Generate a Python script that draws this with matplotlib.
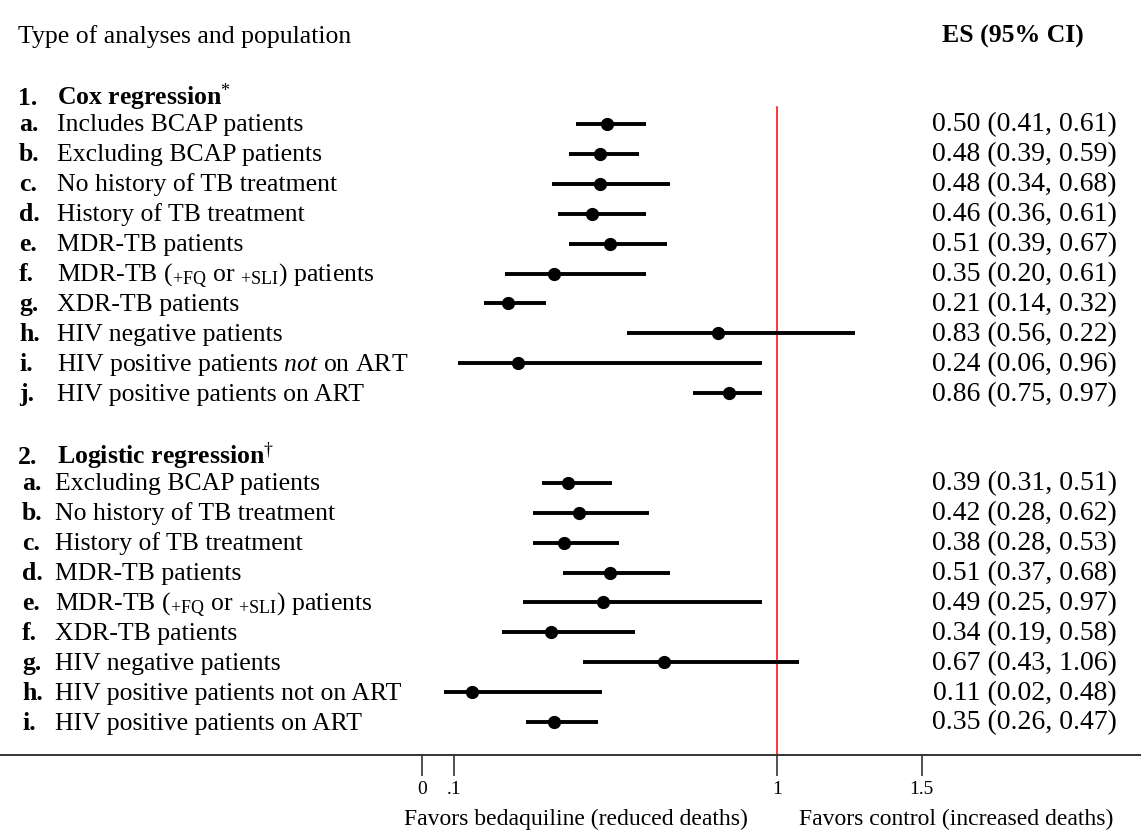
import matplotlib
matplotlib.use("Agg")
import matplotlib.pyplot as plt
import matplotlib.transforms as mtransforms

plt.rcParams['font.family'] = ['Liberation Serif', 'DejaVu Serif']
plt.rcParams['mathtext.fontset'] = 'custom'
plt.rcParams['mathtext.rm'] = 'Liberation Serif'
plt.rcParams['mathtext.it'] = 'Liberation Serif:italic'
plt.rcParams['mathtext.bf'] = 'Liberation Serif:bold'

# Cox regression rows
cox_letters = ['a.', 'b.', 'c.', 'd.', 'e.', 'f.', 'g.', 'h.', 'i.', 'j.']
cox_labels = [
    'Includes BCAP patients',
    'Excluding BCAP patients',
    'No history of TB treatment',
    'History of TB treatment',
    'MDR-TB patients',
    r'MDR-TB ($_{\mathrm{+FQ}}$ or $_{\mathrm{+SLI}}$) patients',
    'XDR-TB patients',
    'HIV negative patients',
    r'HIV positive patients $\mathit{not}$ on ART',
    'HIV positive patients on ART',
]
# reported estimates (text column)
cox_es = [0.50, 0.48, 0.48, 0.46, 0.51, 0.35, 0.21, 0.83, 0.24, 0.86]
cox_es_lo = [0.41, 0.39, 0.34, 0.36, 0.39, 0.20, 0.14, 0.56, 0.06, 0.75]
cox_es_hi = [0.61, 0.59, 0.68, 0.61, 0.67, 0.61, 0.32, 0.22, 0.96, 0.97]
# plotted positions (as drawn)
cox_est = [0.522, 0.501, 0.501, 0.480, 0.530, 0.373, 0.241, 0.835, 0.270, 0.866]
cox_lo = [0.434, 0.414, 0.365, 0.384, 0.414, 0.234, 0.175, 0.577, 0.101, 0.764]
cox_hi = [0.631, 0.611, 0.699, 0.631, 0.689, 0.631, 0.349, 1.220, 0.959, 0.959]

# Logistic regression rows
log_letters = ['a.', 'b.', 'c.', 'd.', 'e.', 'f.', 'g.', 'h.', 'i.']
log_labels = [
    'Excluding BCAP patients',
    'No history of TB treatment',
    'History of TB treatment',
    'MDR-TB patients',
    r'MDR-TB ($_{\mathrm{+FQ}}$ or $_{\mathrm{+SLI}}$) patients',
    'XDR-TB patients',
    'HIV negative patients',
    'HIV positive patients not on ART',
    'HIV positive patients on ART',
]
log_es = [0.39, 0.42, 0.38, 0.51, 0.49, 0.34, 0.67, 0.11, 0.35]
log_es_lo = [0.31, 0.28, 0.28, 0.37, 0.25, 0.19, 0.43, 0.02, 0.26]
log_es_hi = [0.51, 0.62, 0.53, 0.68, 0.97, 0.58, 1.06, 0.48, 0.47]
log_est = [0.412, 0.442, 0.401, 0.530, 0.511, 0.363, 0.683, 0.142, 0.373]
log_lo = [0.337, 0.312, 0.312, 0.396, 0.284, 0.224, 0.454, 0.062, 0.293]
log_hi = [0.536, 0.640, 0.556, 0.699, 0.959, 0.600, 1.062, 0.506, 0.497]

tick_pos = [0, 0.091, 1, 1.408]
tick_labels = ['0', '.1', '1', '1.5']

W, H = 1141, 838
fig = plt.figure(figsize=(W / 100, H / 100), dpi=100)
ax = fig.add_axes([0, 1 - 755 / H, 1, 755 / H])
ax.set_xlim(-422 / 355, (W - 422) / 355)
ax.set_ylim(21.1, -124 / 29.9)

cox_rows = list(range(len(cox_labels)))
log_rows = [12 + i for i in range(len(log_labels))]

# reference line at 1
ax.plot([1, 1], [21.1, -0.57], color='red', lw=1.1, zorder=1)

for rows, est, lo, hi in [(cox_rows, cox_est, cox_lo, cox_hi),
                          (log_rows, log_est, log_lo, log_hi)]:
    ax.hlines(rows, lo, hi, color='black', lw=2.8, zorder=2)
    ax.plot(est, rows, 'o', color='black', ms=8.5, zorder=3)

for s in ['top', 'left', 'right']:
    ax.spines[s].set_visible(False)
ax.spines['bottom'].set_color('#333333')
ax.spines['bottom'].set_linewidth(1.4)
ax.set_yticks([])
ax.set_xticks(tick_pos)
ax.set_xticklabels(tick_labels, fontsize=14)
ax.tick_params(axis='x', direction='out', length=15, width=1.1, color='#222222', pad=4)

trans = mtransforms.blended_transform_factory(ax.transAxes, ax.transData)
fs = 18.5
fs_es = 20
dy = 0.25


def px(x):
    return x / W


ax.text(px(18), -2.72, 'Type of analyses and population', fontsize=fs, transform=trans, va='baseline')
ax.text(px(942), -2.72, 'ES (95% CI)', fontsize=fs, fontweight='bold', transform=trans, va='baseline')

ax.text(px(18), -0.65, '1.', fontsize=fs, fontweight='bold', transform=trans, va='baseline')
ax.text(px(57), -0.65, r'Cox regression$^{*}$', fontsize=fs, fontweight='bold', transform=trans, va='baseline')
ax.text(px(18), 11.37, '2.', fontsize=fs, fontweight='bold', transform=trans, va='baseline')
ax.text(px(57), 11.37, r'Logistic regression$^{\dagger}$', fontsize=fs, fontweight='bold', transform=trans, va='baseline')

for rows, letters, labels, es, elo, ehi, lx, tx in [
        (cox_rows, cox_letters, cox_labels, cox_es, cox_es_lo, cox_es_hi, 19, 57),
        (log_rows, log_letters, log_labels, log_es, log_es_lo, log_es_hi, 22, 55)]:
    for r, let, lab, e, l, h in zip(rows, letters, labels, es, elo, ehi):
        ax.text(px(lx), r + dy, let, fontsize=fs, fontweight='bold', transform=trans, va='baseline')
        ax.text(px(tx), r + dy, lab, fontsize=fs, transform=trans, va='baseline')
        ax.text(px(1117), r + dy, f'{e:.2f} ({l:.2f}, {h:.2f})', fontsize=fs_es,
                transform=trans, va='baseline', ha='right')

fig.text(576 / W, 1 - 825 / H, 'Favors bedaquiline (reduced deaths)', fontsize=17, ha='center', va='baseline')
fig.text(956 / W, 1 - 825 / H, 'Favors control (increased deaths)', fontsize=17, ha='center', va='baseline')

fig.savefig('out.png', dpi=100)
